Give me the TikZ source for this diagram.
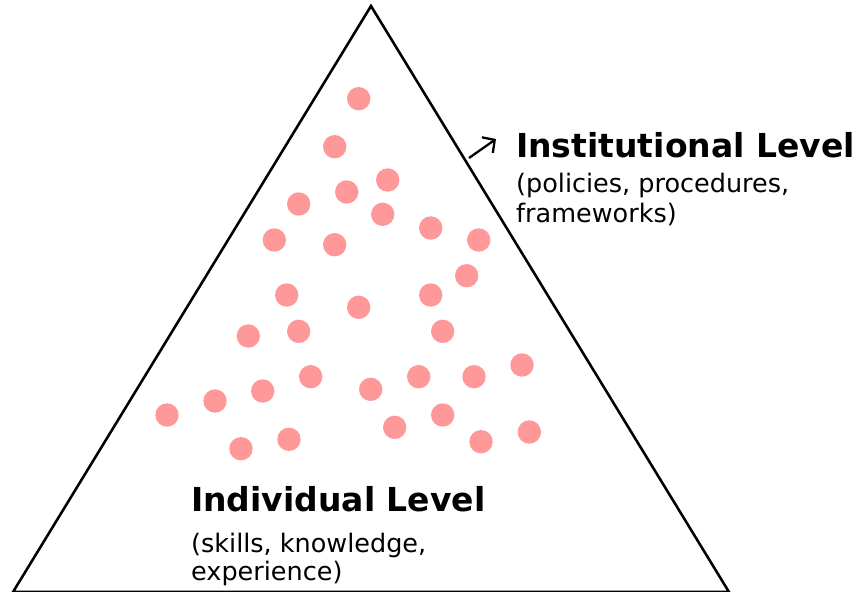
\documentclass[tikz,border=0pt]{standalone}
\usepackage{fontspec}
\setmainfont{DejaVu Sans}
\usepackage{tikz}
\usetikzlibrary{arrows.meta}

\tikzset{
  heading/.style={anchor=base west, inner sep=0pt,
    font=\fontsize{33}{33}\selectfont\bfseries},
  subtext/.style={anchor=base west, inner sep=0pt, align=left,
    font=\fontsize{25.5}{30}\selectfont},
}

\begin{document}
\begin{tikzpicture}[x=1pt, y=-1pt]
% Defining colors
\definecolor{salmonpink}{rgb}{1.0, 0.60, 0.60}
\colorlet{coldot}{salmonpink}
\colorlet{coledge}{black}

\useasboundingbox (0, 0) rectangle (860, 592);

% =:=:=:=:=:=:=:=:=:=:=:=:=:=:=:=:=:=:=
% Triangle
% =:=:=:=:=:=:=:=:=:=:=:=:=:=:=:=:=:=:=
\coordinate (apex) at (371, 6);
\coordinate (baseL) at (13, 592);
\coordinate (baseR) at (729, 592);
\draw[color=coledge, line width=0.9mm, line join=miter]
    (baseL) -- (apex) -- (baseR) -- cycle;

% =:=:=:=:=:=:=:=:=:=:=:=:=:=:=:=:=:=:=
% Individuals (dots)
% =:=:=:=:=:=:=:=:=:=:=:=:=:=:=:=:=:=:=
\foreach \px/\py in {
    358.7/98.7, 334.7/146.7, 387.7/180, 346.7/192, 298.7/204,
    382.7/214.3, 430.7/228, 478.7/240, 274.3/240, 334.7/244.7,
    466.7/275.7, 286.7/295, 430.7/295, 358.7/307.3,
    248.3/336, 298.7/331.3, 442.7/331.3, 522/365,
    310.7/376.7, 418.7/376.7, 474/376.7, 370.7/389.3, 262.7/391,
    215/401, 167/415, 442.7/415, 394.7/427.3, 529.3/432,
    481/441.7, 289/439.3, 241/448.7}
  \fill[color=coldot] (\px, \py) circle (11.7pt);

% =:=:=:=:=:=:=:=:=:=:=:=:=:=:=:=:=:=:=
% Institutional level
% =:=:=:=:=:=:=:=:=:=:=:=:=:=:=:=:=:=:=
\coordinate (arrtail) at (469, 158);
\coordinate (arrtip) at (496, 139);
\draw[-{Straight Barb[length=9pt, width=19pt]}, line width=0.8mm]
    (arrtail) -- (arrtip);

\node[heading] (inst) at (516, 157) {Institutional Level};
% last line of the node sits on the given baseline
\node[subtext] (instsub) at (516, 222)
    {(policies, procedures,\\frameworks)};

% =:=:=:=:=:=:=:=:=:=:=:=:=:=:=:=:=:=:=
% Individual level
% =:=:=:=:=:=:=:=:=:=:=:=:=:=:=:=:=:=:=
\node[heading] (indiv) at (191, 511) {Individual Level};
\node[subtext, font=\fontsize{25.5}{28}\selectfont] (indivsub) at (191, 580)
    {(skills, knowledge,\\experience)};

\end{tikzpicture}
\end{document}
